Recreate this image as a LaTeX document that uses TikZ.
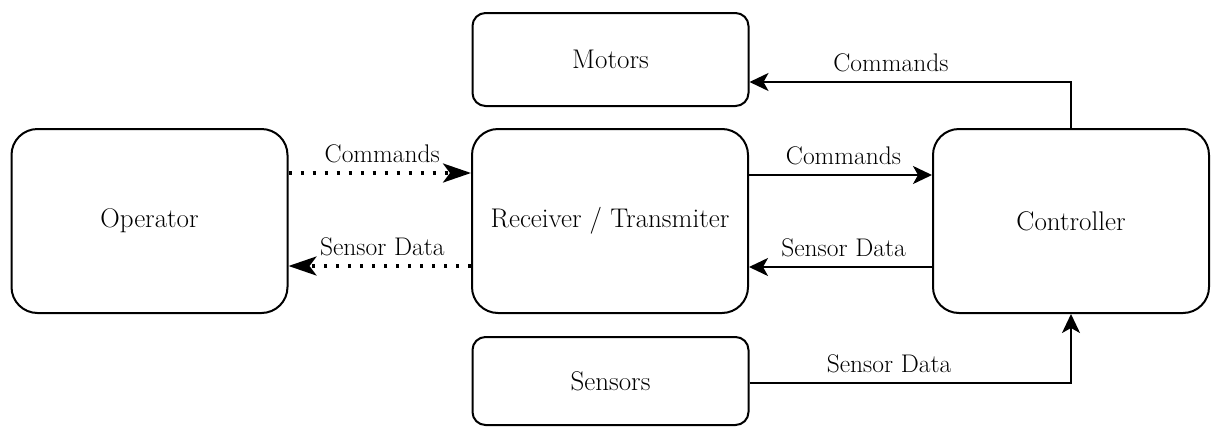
\documentclass[tikz,border=0pt]{standalone}
\usepackage{fontspec}
\usetikzlibrary{arrows.meta}
\begin{document}
\begin{tikzpicture}[x=1pt,y=-1pt,
  bigbox/.style={draw, line width=2pt, rounded corners=26pt, minimum width=276pt, minimum height=184pt,
    font=\fontsize{27}{32}\selectfont, inner sep=0pt},
  smallbox/.style={draw, line width=2pt, rounded corners=13pt, minimum width=276pt,
    font=\fontsize{27}{32}\selectfont, inner sep=0pt},
  link/.style={line width=2pt, -{Stealth[length=19pt,width=18pt,inset=5pt]}},
  radio/.style={line width=3.5pt, dash pattern=on 3.5pt off 8.5pt,
    -{Stealth[length=28pt,width=19pt,inset=7pt]}},
  lbl/.style={font=\fontsize{25.5}{30}\selectfont, anchor=base, inner sep=0pt, yshift=10.5pt}]
\useasboundingbox (0,0) rectangle (1213,426);

% blocks
\node[bigbox] (op)   at (149.5,221) {Operator};
\node[bigbox] (rx)   at (610,221)   {Receiver / Transmiter};
\node[bigbox] (ctrl) at (1071,221)  {Controller};
\node[smallbox, minimum height=93pt] (mot) at (610.5,59.5) {Motors};
\node[smallbox, minimum height=88pt] (sen) at (610.5,381) {Sensors};

% radio link
\draw[radio] ([yshift=48pt]op.east) -- ([yshift=48pt]rx.west)
  node[lbl, midway, xshift=2.5pt] {Commands};
\draw[radio] ([yshift=-45pt]rx.west) -- ([yshift=-45pt]op.east)
  node[lbl, midway, xshift=2.5pt] {Sensor Data};

% on-board links
\draw[link] ([yshift=46pt]rx.east) -- ([yshift=46pt]ctrl.west)
  node[lbl, midway, xshift=3pt] {Commands};
\draw[link] ([yshift=-46pt]ctrl.west) -- ([yshift=-46pt]rx.east)
  node[lbl, midway, xshift=3pt] {Sensor Data};
\draw[link] (ctrl.north) |- ([yshift=-22.5pt]mot.east)
  node[lbl, pos=0.78] {Commands};
\draw[link] ([yshift=-2pt]sen.east) -| (ctrl.south)
  node[lbl, pos=0.217] {Sensor Data};
\end{tikzpicture}
\end{document}
